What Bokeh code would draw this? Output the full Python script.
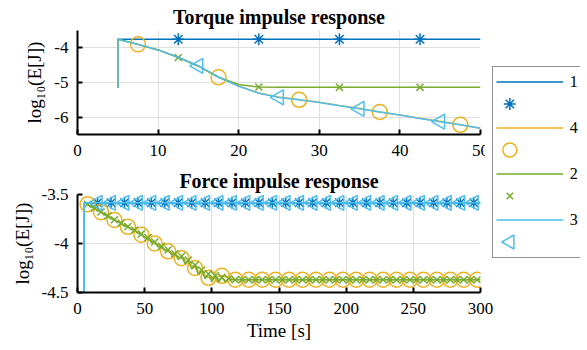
import numpy as np
from bokeh.plotting import figure
from bokeh.layouts import column
from bokeh.models import Range1d, FixedTicker, Legend, LegendItem
from bokeh.embed import file_html
from bokeh.resources import INLINE

# ---------------- data ----------------
names = ["1", "4", "2", "3"]
colors = {"1": "#0072BD", "4": "#EDB120", "2": "#77AC30", "3": "#4DBEEE"}
markers = {"1": "asterisk", "4": "circle", "2": "x", "3": "triangle"}

# Torque impulse response (top)
torque_t = [5, 5, 7.5, 10, 12.5, 15, 17.5, 20, 22.5, 25, 27.5, 30, 32.5, 35, 37.5, 40, 42.5, 45, 47.5, 50]
torque_1 = [-5.15, -3.75, -3.75, -3.75, -3.75, -3.75, -3.75, -3.75, -3.75, -3.75, -3.75, -3.75, -3.75, -3.75,
            -3.75, -3.75, -3.75, -3.75, -3.75, -3.75]
torque_4 = [-5.15, -3.75, -3.90, -4.06, -4.27, -4.52, -4.85, -5.10, -5.30, -5.42, -5.50, -5.57, -5.66, -5.75,
            -5.85, -5.94, -6.03, -6.12, -6.22, -6.32]
torque_2 = [-5.15, -3.75, -3.90, -4.06, -4.28, -4.53, -4.85, -5.06, -5.13, -5.14, -5.14, -5.14, -5.14, -5.14,
            -5.14, -5.14, -5.14, -5.14, -5.14, -5.14]
torque_3 = [-5.15, -3.75, -3.90, -4.06, -4.27, -4.52, -4.84, -5.11, -5.31, -5.43, -5.50, -5.58, -5.67, -5.76,
            -5.85, -5.94, -6.04, -6.13, -6.22, -6.32]
torque_mark_1 = [12.5, 22.5, 32.5, 42.5]
torque_mark_4 = [7.5, 17.5, 27.5, 37.5, 47.5]
torque_mark_2 = [12.5, 22.5, 32.5, 42.5]
torque_mark_3 = [15, 25, 35, 45]
torque_xticks = [0, 10, 20, 30, 40, 50]
torque_yticks = [-6, -5, -4]
torque_ylabels = {-6: "-6", -5: "-5", -4: "-4"}

# Force impulse response (bottom)
force_level_13 = -3.585
force_t_13 = [5, 5] + list(range(15, 300, 10)) + [300]
force_1 = [-4.6] + [force_level_13] * (len(force_t_13) - 1)
force_3 = [-4.6] + [force_level_13] * (len(force_t_13) - 1)
force_mark_13 = list(range(15, 300, 10))

force_t_4 = [5, 7.5, 17.5, 27.5, 37.5, 47.5, 57.5, 67.5, 77.5, 87.5, 97.5, 107.5] + \
            [117.5 + 10 * k for k in range(19)] + [300]
force_4 = [-3.585, -3.60, -3.68, -3.76, -3.83, -3.91, -4.00, -4.08, -4.15, -4.25, -4.35, -4.33] + \
          [-4.37] * 19 + [-4.37]
force_mark_4 = [7.5 + 10 * k for k in range(30)]

force_t_2 = [5 + 2.5 * k for k in range(45)] + [117.5 + 5 * k for k in range(37)] + [300]
force_2 = [-3.585, -3.600, -3.622, -3.638, -3.662, -3.678, -3.702, -3.718, -3.742, -3.758,
           -3.782, -3.792, -3.818, -3.826, -3.858, -3.862, -3.898, -3.902, -3.945, -3.940,
           -3.990, -3.985, -4.035, -4.030, -4.075, -4.065, -4.115, -4.105, -4.160, -4.130,
           -4.205, -4.170, -4.260, -4.220, -4.320, -4.270, -4.360, -4.310, -4.390, -4.330,
           -4.395, -4.345, -4.390, -4.360, -4.370] + [-4.37] * 37 + [-4.37]
force_mark_2 = [7.5 + 5 * k for k in range(59)]
force_xticks = [0, 50, 100, 150, 200, 250, 300]
force_yticks = [-4.5, -4, -3.5]
force_ylabels = {-4.5: "-4.5", -4: "-4", -3.5: "-3.5"}

FONT = "Liberation Serif, Times New Roman, serif"
GRID = "#DFDFDF"
msize = {"asterisk": 12, "circle": 15, "x": 10, "triangle": 15}
LEFT_ANGLE = np.pi / 2   # rotate the up-triangle so that it points left ("<")


def pick(ts, ys, marks):
    lut = {round(float(t), 3): y for t, y in zip(ts, ys)}
    return [lut[round(float(m), 3)] for m in marks]


def style(p, xticks, yticks, ylabels, ylab, xlab=None):
    p.outline_line_color = None
    p.background_fill_color = "white"
    p.axis.axis_line_color = "black"
    p.axis.axis_line_width = 2
    p.axis.major_tick_line_color = "black"
    p.axis.major_tick_line_width = 2
    p.axis.major_tick_in = 5
    p.axis.major_tick_out = 0
    p.axis.minor_tick_line_color = None
    p.axis.major_label_text_font = FONT
    p.axis.major_label_text_font_size = "17px"
    p.axis.major_label_text_color = "black"
    p.axis.axis_label_text_font = FONT
    p.axis.axis_label_text_font_size = "19px"
    p.axis.axis_label_text_font_style = "normal"
    p.axis.axis_label_text_color = "black"
    p.xaxis.ticker = FixedTicker(ticks=xticks)
    p.yaxis.ticker = FixedTicker(ticks=yticks)
    p.yaxis.major_label_overrides = ylabels
    p.xaxis.major_label_standoff = 10
    p.yaxis.major_label_standoff = 9
    p.yaxis.axis_label = ylab
    p.yaxis.axis_label_standoff = 6
    if xlab:
        p.xaxis.axis_label = xlab
        p.xaxis.axis_label_standoff = 3
    p.xgrid.ticker = FixedTicker(ticks=xticks)
    p.ygrid.ticker = FixedTicker(ticks=yticks)
    p.grid.grid_line_color = GRID
    p.grid.grid_line_width = 1
    p.title.text_font = FONT
    p.title.text_font_size = "20px"
    p.title.text_font_style = "bold"
    p.title.align = "center"
    p.title.standoff = 6
    p.title.text_color = "black"


def scatter(p, x, y, name, size, **kw):
    m = markers[name]
    extra = {"angle": LEFT_ANGLE} if m == "triangle" else {}
    return p.scatter(x, y, marker=m, size=size, line_color=colors[name], fill_color=None,
                     line_width=1.5, **extra, **kw)


def draw(p, series):
    for name, (ts, ys, marks) in series.items():
        p.line(ts, ys, line_color=colors[name], line_width=1.5)
        scatter(p, marks, pick(ts, ys, marks), name, msize[markers[name]])


top = figure(width=587, height=164, output_backend="svg", toolbar_location=None,
             x_range=Range1d(0, 50), y_range=Range1d(-6.5, -3.5),
             title="Torque impulse response",
             min_border_left=76, min_border_right=105, min_border_top=29, min_border_bottom=30)
style(top, torque_xticks, torque_yticks, torque_ylabels, "log\u2081\u2080(E[J])")
draw(top, {"1": (torque_t, torque_1, torque_mark_1),
           "4": (torque_t, torque_4, torque_mark_4),
           "2": (torque_t, torque_2, torque_mark_2),
           "3": (torque_t, torque_3, torque_mark_3)})

bot = figure(width=587, height=186, output_backend="svg", toolbar_location=None,
             x_range=Range1d(0, 300), y_range=Range1d(-4.5, -3.5),
             title="Force impulse response",
             min_border_left=77, min_border_right=107, min_border_top=22, min_border_bottom=58)
style(bot, force_xticks, force_yticks, force_ylabels, "log\u2081\u2080(E[J])", "Time [s]")
draw(bot, {"1": (force_t_13, force_1, force_mark_13),
           "4": (force_t_4, force_4, force_mark_4),
           "2": (force_t_2, force_2, force_mark_2),
           "3": (force_t_13, force_3, force_mark_13)})

# ---------------- shared legend (own small canvas laid over the right margin) ----------------
PAD, ITEM_H, GLYPH_W = 3, 23, 67
LEG_W, LEG_TOP, LEG_CANVAS_H = 102, 66, 260
FRAME_H = LEG_CANVAS_H - LEG_TOP
lf = figure(width=LEG_W, height=LEG_CANVAS_H, output_backend="svg", toolbar_location=None,
            x_range=Range1d(0, LEG_W), y_range=Range1d(FRAME_H, 0),
            x_axis_type=None, y_axis_type=None,
            min_border_left=0, min_border_top=LEG_TOP, min_border_right=0, min_border_bottom=0)
lf.outline_line_color = None
lf.background_fill_color = "white"
lf.background_fill_alpha = 1
lf.border_fill_alpha = 0
lf.grid.visible = False
lf.styles = {"position": "absolute", "left": "485px", "top": "0px"}

items, mark_x, mark_y, mark_names = [], [], [], []
for k, name in enumerate(names):
    lr = lf.line([-10, -9], [-10, -9], line_color=colors[name], line_width=1.5)
    hidden = lf.scatter([-10], [-10], marker="circle", line_alpha=0, fill_alpha=0)
    items.append(LegendItem(label=name, renderers=[lr]))
    items.append(LegendItem(label=" ", renderers=[hidden]))
    mark_names.append(name)
    mark_x.append(PAD + GLYPH_W / 2)
    mark_y.append(PAD + ITEM_H * (2 * k + 1) + ITEM_H / 2)
leg = Legend(items=items, location="top_left", margin=0, padding=PAD, spacing=0,
             glyph_height=ITEM_H, glyph_width=GLYPH_W, label_height=20, label_width=40, label_standoff=7,
             label_text_font=FONT, label_text_font_size="16px", label_text_color="black",
             border_line_color="#262626", border_line_width=1,
             background_fill_alpha=0)
lf.add_layout(leg)
leg_msize = {"asterisk": 12, "circle": 14, "x": 9, "triangle": 14}
for name, x, y in zip(mark_names, mark_x, mark_y):
    scatter(lf, [x], [y], name, leg_msize[markers[name]])

layout = column(top, bot, lf, spacing=0)
open("out.html", "w").write(file_html(layout, INLINE))
